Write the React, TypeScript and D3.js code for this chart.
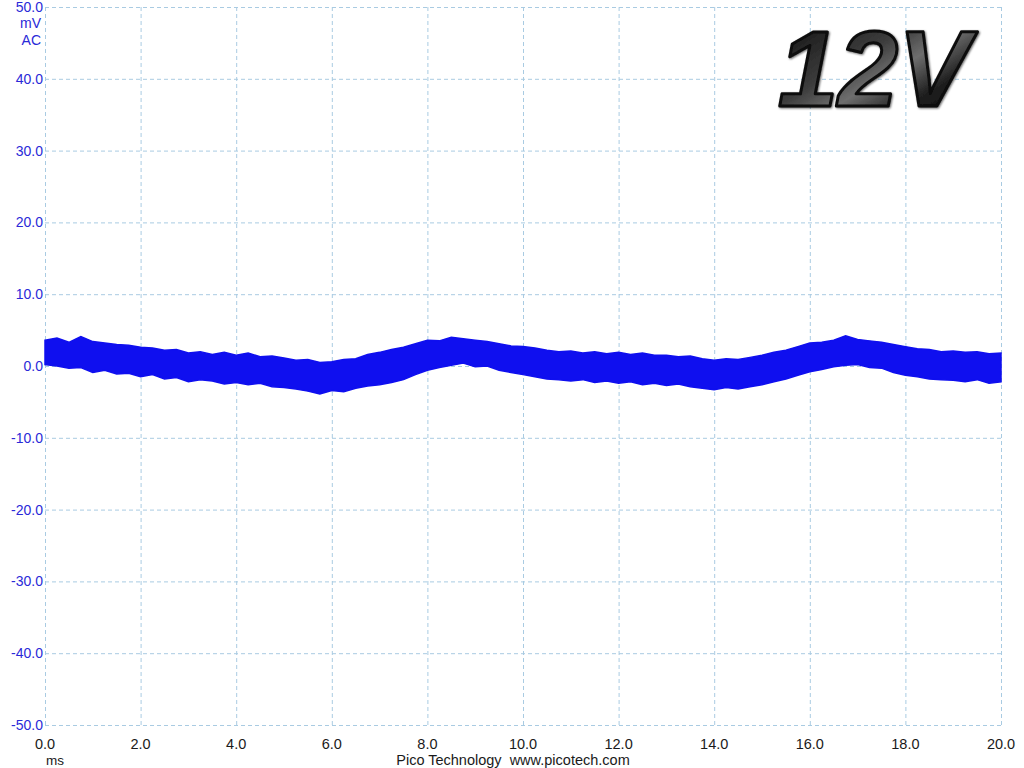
import React, { useEffect, useRef } from 'react';
import * as d3 from 'd3';

// time axis (ms) at 0.25 ms steps, upper and lower edge of the noisy trace (mV)
const times = d3.range(0, 20.001, 0.25);
const upper = [
  3.6, 3.9, 3.3, 4.1, 3.4, 3.2, 3.0, 2.9, 2.6, 2.5, 2.2, 2.3, 1.8, 2.0, 1.6, 1.9,
  1.5, 1.8, 1.3, 1.4, 1.1, 0.8, 0.9, 0.5, 0.6, 0.9, 1.0, 1.6, 1.9, 2.3, 2.6, 3.1,
  3.6, 3.5, 4.0, 3.8, 3.6, 3.4, 3.1, 2.8, 2.7, 2.5, 2.2, 2.0, 2.1, 1.8, 2.0, 1.7,
  1.9, 1.6, 1.8, 1.5, 1.5, 1.3, 1.4, 1.0, 0.8, 1.0, 0.9, 1.2, 1.5, 1.9, 2.2, 2.7,
  3.2, 3.3, 3.6, 4.2, 3.7, 3.5, 3.3, 3.0, 2.7, 2.4, 2.3, 2.0, 2.1, 1.9, 2.0, 1.7,
  1.8,
];
const lower = [
  0.2, 0.0, -0.3, -0.2, -0.9, -0.6, -1.1, -1.0, -1.5, -1.2, -1.8, -1.6, -2.2, -1.9, -2.1, -2.5,
  -2.3, -2.6, -2.4, -2.9, -3.0, -3.2, -3.5, -3.9, -3.4, -3.6, -3.1, -2.8, -2.6, -2.3, -1.9, -1.2,
  -0.6, -0.2, 0.1, 0.4, -0.1, 0.0, -0.6, -0.9, -1.2, -1.5, -1.8, -1.9, -2.1, -1.9, -2.3, -2.1,
  -2.4, -2.2, -2.6, -2.4, -2.7, -2.5, -2.9, -3.1, -3.3, -3.0, -3.2, -2.9, -2.6, -2.2, -1.8, -1.3,
  -0.8, -0.5, -0.1, 0.1, 0.2, -0.2, -0.3, -0.9, -1.3, -1.5, -1.8, -1.9, -2.0, -2.2, -1.9, -2.4,
  -2.2,
];
const xTicks = [0, 2, 4, 6, 8, 10, 12, 14, 16, 18, 20];
const yTicks = [50, 40, 30, 20, 10, 0, -10, -20, -30, -40, -50];

function ScopeChart() {
  const ref = useRef<HTMLDivElement>(null);
  const width = 1024;
  const height = 768;
  const margin = { left: 45, right: 23, top: 7, bottom: 43 };

  useEffect(() => {
    if (!ref.current) return;
    d3.select(ref.current).select('svg').remove();

    const svg = d3.select(ref.current)
      .append('svg')
      .attr('width', width)
      .attr('height', height)
      .style('display', 'block')
      .style('background', '#fff');

    const x = d3.scaleLinear().domain([0, 20]).range([margin.left, width - margin.right]);
    const y = d3.scaleLinear().domain([-50, 50]).range([height - margin.bottom, margin.top]);

    // grid
    const gridColor = '#a9cbe2';
    svg.append('g')
      .selectAll('line')
      .data(xTicks)
      .enter()
      .append('line')
      .attr('x1', (d) => x(d) + 0.5)
      .attr('x2', (d) => x(d) + 0.5)
      .attr('y1', y(50))
      .attr('y2', y(-50))
      .attr('stroke', gridColor)
      .attr('stroke-dasharray', '4,3');
    svg.append('g')
      .selectAll('line')
      .data(yTicks)
      .enter()
      .append('line')
      .attr('x1', x(0))
      .attr('x2', x(20))
      .attr('y1', (d) => y(d) + 0.5)
      .attr('y2', (d) => y(d) + 0.5)
      .attr('stroke', gridColor)
      .attr('stroke-dasharray', '4,3');

    // signal band
    const band = d3.area<number>()
      .x((_, i) => x(times[i]))
      .y0((_, i) => y(lower[i]))
      .y1((d) => y(d))
      .curve(d3.curveLinear);
    svg.append('path')
      .datum(upper)
      .attr('d', band)
      .attr('fill', '#0f0fef')
      .attr('stroke', '#0f0fef')
      .attr('stroke-width', 1.5);

    // y labels
    const labelFont = '"Liberation Sans", Arial, sans-serif';
    svg.append('g')
      .selectAll('text')
      .data(yTicks)
      .enter()
      .append('text')
      .attr('x', x(0) - 2)
      .attr('y', (d) => y(d) + 5)
      .attr('text-anchor', 'end')
      .attr('font-family', labelFont)
      .attr('font-size', 14)
      .attr('fill', '#2a2ad8')
      .text((d) => d.toFixed(1));
    svg.append('text')
      .attr('x', x(0) - 4)
      .attr('y', 28)
      .attr('text-anchor', 'end')
      .attr('font-family', labelFont)
      .attr('font-size', 14)
      .attr('fill', '#2a2ad8')
      .text('mV');
    svg.append('text')
      .attr('x', x(0) - 4)
      .attr('y', 45)
      .attr('text-anchor', 'end')
      .attr('font-family', labelFont)
      .attr('font-size', 14)
      .attr('fill', '#2a2ad8')
      .text('AC');

    // x labels
    svg.append('g')
      .selectAll('text')
      .data(xTicks)
      .enter()
      .append('text')
      .attr('x', (d) => x(d))
      .attr('y', height - margin.bottom + 24)
      .attr('text-anchor', 'middle')
      .attr('font-family', labelFont)
      .attr('font-size', 14.5)
      .attr('fill', '#1a1a1a')
      .text((d) => d.toFixed(1));
    svg.append('text')
      .attr('x', x(0) + 1)
      .attr('y', 765)
      .attr('font-family', labelFont)
      .attr('font-size', 13.5)
      .attr('fill', '#1a1a1a')
      .text('ms');
    svg.append('text')
      .attr('x', 513)
      .attr('y', 765)
      .attr('text-anchor', 'middle')
      .attr('font-family', labelFont)
      .attr('font-size', 14.5)
      .attr('fill', '#1a1a1a')
      .attr('xml:space', 'preserve')
      .style('white-space', 'pre')
      .text('Pico Technology  www.picotech.com');

    // big 12V title
    const defs = svg.append('defs');
    const grad = defs.append('linearGradient')
      .attr('id', 'metal')
      .attr('x1', 0).attr('y1', 0).attr('x2', 1).attr('y2', 1);
    grad.append('stop').attr('offset', '0%').attr('stop-color', '#0a0a0a');
    grad.append('stop').attr('offset', '40%').attr('stop-color', '#3c3c3c');
    grad.append('stop').attr('offset', '55%').attr('stop-color', '#6e6e6e');
    grad.append('stop').attr('offset', '72%').attr('stop-color', '#202020');
    grad.append('stop').attr('offset', '100%').attr('stop-color', '#000');
    const shadow = defs.append('filter').attr('id', 'shade');
    shadow.append('feDropShadow')
      .attr('dx', 1).attr('dy', 1).attr('stdDeviation', 1)
      .attr('flood-color', '#000').attr('flood-opacity', 0.6);
    svg.append('text')
      .attr('x', 874)
      .attr('y', 106)
      .attr('text-anchor', 'middle')
      .attr('font-family', '"Liberation Sans", Arial, sans-serif')
      .attr('font-weight', 'bold')
      .attr('font-style', 'italic')
      .attr('font-size', 108)
      .attr('fill', 'url(#metal)')
      .attr('stroke', '#0a0a0a')
      .attr('stroke-width', 3)
      .attr('stroke-linejoin', 'round')
      .attr('filter', 'url(#shade)')
      .text('12V');
  }, []);

  return <div ref={ref} style={{ position: 'absolute', left: 0, top: 0 }}></div>;
}

export default function App() {
  return <ScopeChart />;
}
